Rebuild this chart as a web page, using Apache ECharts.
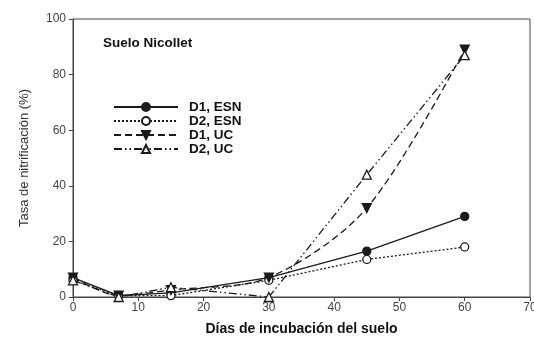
<!DOCTYPE html>
<html><head><meta charset="utf-8">
<script src="https://cdn.jsdelivr.net/npm/echarts@6/dist/echarts.min.js"></script>
<style>html,body{margin:0;padding:0;background:#fff}#c{width:534px;height:337px}</style>
</head><body><div id="c"></div>
<script>
const days = [0, 7, 15, 30, 45, 60];
const d1ESN = [7, 0.5, 1.5, 7, 16.5, 29];
const d2ESN = [6, 0.5, 0.5, 6, 13.5, 18];
const d1UC = [7, 0.5, 2.5, 7, 32, 89];
const d2UC = [6, 0, 3.5, 0, 44, 87];
const xTicks = [0, 10, 20, 30, 40, 50, 60, 70];
const yTicks = [0, 20, 40, 60, 80, 100];
const names = ['D1, ESN', 'D2, ESN', 'D1, UC', 'D2, UC'];

const pair = arr => days.map((d, i) => [d, arr[i]]);
const ink = '#1a1a1a';
const font = 'Liberation Sans, Arial, sans-serif';
function mk(name, data, sym, fill, type, smooth) {
  return {
    name, type: 'line', data: pair(data), symbol: sym, symbolSize: sym === 'circle' ? 8 : 9,
    smooth: smooth, showSymbol: true,
    itemStyle: { color: fill, borderColor: ink, borderWidth: 1.3 },
    lineStyle: { color: ink, width: 1.3, type: type },
    emphasis: { disabled: true }
  };
}
const downTri = 'path://M0,0 L10,0 L5,9 Z';
const chart = echarts.init(document.getElementById('c'), null, { renderer: 'canvas' });
chart.setOption({
  animation: false,
  backgroundColor: '#fff',
  grid: { left: 73, right: 4, top: 19, bottom: 40, show: true, borderColor: '#444', borderWidth: 1,
    backgroundColor: 'transparent', containLabel: false, outerBoundsMode: 'none' },
  title: { text: 'Suelo Nicollet', left: 103, top: 36, padding: 0,
    textStyle: { fontFamily: font, fontWeight: 'bold', fontSize: 13.5, color: '#111' } },
  legend: {
    orient: 'vertical', left: 113, top: 100, padding: 0, itemWidth: 64, itemHeight: 10, itemGap: 0,
    data: names,
    textStyle: { fontFamily: font, fontWeight: 'bold', fontSize: 13.5, lineHeight: 13.5, color: '#111', padding: [0, 0, 0, 6] }
  },
  xAxis: {
    type: 'value', min: 0, max: 70, interval: 10,
    name: 'Días de incubación del suelo', nameLocation: 'middle', nameGap: 25,
    nameTextStyle: { fontFamily: font, fontWeight: 'bold', fontSize: 14, color: '#111' },
    axisLine: { show: true, lineStyle: { color: '#444', width: 1 } },
    axisTick: { show: true, inside: false, length: 4, lineStyle: { color: '#444' } },
    axisLabel: { fontFamily: font, fontSize: 12, color: '#444', margin: 5, hideOverlap: false,
      formatter: v => xTicks.includes(v) ? String(v) : '' },
    splitLine: { show: false }
  },
  yAxis: {
    type: 'value', min: 0, max: 100, interval: 20,
    name: 'Tasa de nitrificación (%)', nameLocation: 'middle', nameGap: 42, nameRotate: 90,
    nameTextStyle: { fontFamily: font, fontSize: 13, color: '#333' },
    axisLine: { show: true, lineStyle: { color: '#444', width: 1 } },
    axisTick: { show: true, inside: false, length: 4, lineStyle: { color: '#444' } },
    axisLabel: { fontFamily: font, fontSize: 12, color: '#444', margin: 7,
      formatter: v => yTicks.includes(v) ? String(v) : '' },
    splitLine: { show: false }
  },
  series: [
    mk(names[0], d1ESN, 'circle', ink, 'solid', false),
    mk(names[1], d2ESN, 'circle', '#fff', [2, 2], false),
    mk(names[2], d1UC, downTri, ink, [7, 4], 0.3),
    mk(names[3], d2UC, 'triangle', '#fff', [8, 3, 1.5, 3, 1.5, 3], false)
  ]
});
</script></body></html>
